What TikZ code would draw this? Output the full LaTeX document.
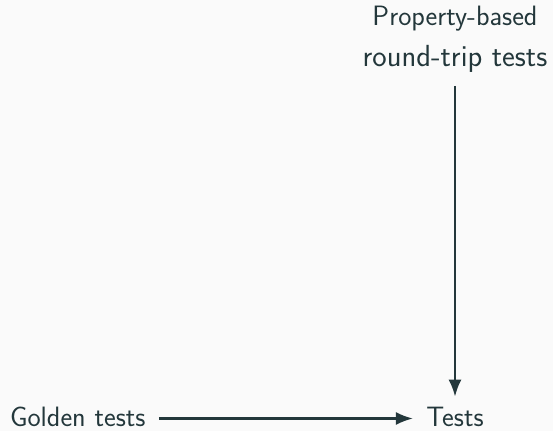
\documentclass[tikz,border=0pt]{standalone}
\usetikzlibrary{arrows.meta}
\definecolor{fg}{HTML}{23373B}
\definecolor{bg}{HTML}{FAFAFA}
\begin{document}
\begin{tikzpicture}[x=1pt,y=1pt,
  lbl/.style={text=fg,font=\sffamily\fontsize{28}{41}\selectfont,inner xsep=13.5pt,inner ysep=12pt,outer sep=0pt},
  bot/.style={text height=19.4pt,text depth=3.4pt},
  conn/.style={draw=fg,line width=2.2pt,-{Latex[length=17pt,width=13pt]}}]
\fill[bg] (0,0) rectangle (553,431);
\useasboundingbox (0,0) rectangle (553,431);
\node[lbl,bot,anchor=base,inner ysep=10.5pt] (tests) at (455,4.5) {Tests};
\node[lbl,bot,anchor=base west] (golden) at (-3.5,4.5) {Golden tests};
\node[lbl,anchor=south,align=center,inner ysep=13.5pt] (prop) at (455,345) {Property-based\\{\fontsize{30.5}{41}\selectfont round-trip tests}};
\draw[conn] (golden.east) -- (tests.west);
\draw[conn] (prop.south) -- (tests.north);
\end{tikzpicture}
\end{document}
